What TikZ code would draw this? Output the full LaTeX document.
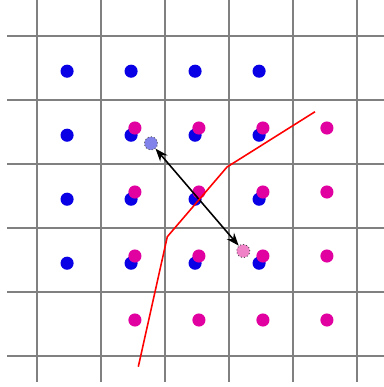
\documentclass[tikz,border=0pt]{standalone}
\usepackage{tikz}
\usetikzlibrary{arrows.meta}

\definecolor{dotblue}{RGB}{10,0,230}
\definecolor{dotmag}{RGB}{225,0,160}
\definecolor{ghostblue}{RGB}{130,130,235}
\definecolor{ghostpink}{RGB}{240,130,200}

\tikzset{
  gridline/.style={gray,line width=1.1pt},
  dot/.style={circle,inner sep=0pt,minimum size=0.205cm},
  ghost/.style={dot,draw=black!70,densely dotted,line width=0.4pt},
}

\begin{document}
\begin{tikzpicture}[>={Stealth[length=2mm]}]
  \useasboundingbox (-0.578,-0.484) rectangle (5.406,5.5625);
  % grid
  \foreach \k in {0,...,5} {
    \draw[gridline] (\k,5.6) -- (\k,-0.4);
    \draw[gridline] (-0.47,\k) -- (5.45,\k);
  }
  % first lattice
  \foreach \i in {0,...,3}
    \foreach \j in {0,...,3}
      \node[dot,fill=dotblue] (b\i\j) at (\i+0.47,4.45-\j) {};
  % second lattice
  \foreach \i in {0,...,3}
    \foreach \j in {0,...,3}
      \node[dot,fill=dotmag] (m\i\j) at (\i+1.53,3.5625-\j) {};
  % displaced pair
  \node[ghost,fill=ghostblue] (gb) at (1.781,3.323) {};
  \node[ghost,fill=ghostpink] (gp) at (3.223,1.641) {};
  \draw[<->,line width=0.7pt] (gb) -- (gp);
  % boundary
  \coordinate (r0) at (1.583,-0.167);
  \coordinate (r1) at (2.036,1.864);
  \coordinate (r2) at (2.969,2.953);
  \coordinate (r3) at (4.344,3.817);
  \draw[red,line width=0.7pt] (r0) -- (r1) -- (r2) -- (r3);
\end{tikzpicture}
\end{document}
